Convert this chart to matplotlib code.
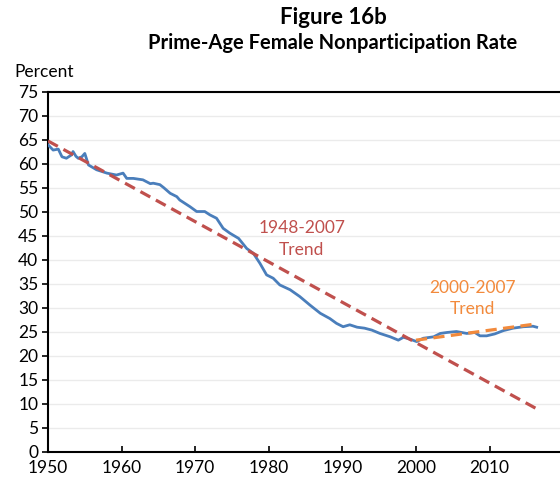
import matplotlib.pyplot as plt

plt.rcParams['font.family'] = ['Lato', 'DejaVu Sans']

# traced series (percent)
years = [1950.0, 1950.7, 1951.4, 1951.9, 1952.5, 1953.2, 1953.4, 1953.8, 1954.1, 1954.6,
         1955.0, 1955.5, 1956.6, 1958.0, 1959.3, 1960.2, 1960.7, 1961.6, 1962.9, 1963.9,
         1964.3, 1965.2, 1965.7, 1966.6, 1967.5, 1967.9, 1968.8, 1969.3, 1970.2, 1971.3,
         1972.0, 1972.9, 1973.8, 1974.7, 1975.9, 1977.0, 1977.9, 1978.8, 1979.7, 1980.6,
         1981.5, 1982.9, 1984.2, 1985.6, 1987.0, 1988.3, 1989.2, 1990.1, 1991.0, 1992.0,
         1993.0, 1994.0, 1995.1, 1996.5, 1997.6, 1998.3, 1999.2, 2000.1, 2001.0, 2002.4,
         2003.3, 2004.2, 2005.5, 2006.9, 2008.0, 2008.7, 2009.6, 2010.7, 2011.9, 2013.2,
         2014.6, 2015.9, 2016.4]
rate = [64.0, 62.9, 63.1, 61.5, 61.2, 61.9, 62.6, 61.6, 61.2, 61.5,
        62.2, 59.8, 58.8, 58.1, 57.7, 58.1, 57.0, 57.0, 56.7, 55.9,
        56.0, 55.7, 55.1, 53.9, 53.2, 52.5, 51.6, 51.1, 50.1, 50.1,
        49.4, 48.7, 46.6, 45.6, 44.5, 42.4, 41.4, 39.3, 36.9, 36.2,
        34.8, 33.8, 32.4, 30.6, 28.9, 27.8, 26.8, 26.1, 26.5, 26.0,
        25.8, 25.4, 24.7, 24.0, 23.3, 23.9, 23.5, 23.0, 23.7, 24.0,
        24.7, 24.9, 25.1, 24.7, 24.9, 24.2, 24.2, 24.6, 25.3, 25.8,
        26.1, 26.2, 26.0]

trend_long_x = [1950.0, 2016.4]
trend_long_y = [64.8, 9.0]
trend_short_x = [2000.0, 2016.4]
trend_short_y = [23.3, 26.7]

blue = '#4A7EBB'
red = '#C0504D'
orange = '#F28A3C'

fig = plt.figure(figsize=(5.6, 4.8), dpi=100)
ax = fig.add_axes([48 / 560, 28 / 480, 1 - 48 / 560, 360 / 480])

ax.plot(years, rate, color=blue, lw=2.0, zorder=3)
ax.plot(trend_long_x, trend_long_y, color=red, lw=2.3, dashes=(3.5, 2), zorder=4)
ax.plot(trend_short_x, trend_short_y, color=orange, lw=2.3, dashes=(3.5, 2), zorder=4)

ax.text(1984.5, 46.6, '1948-2007', color=red, fontsize=12.5, ha='center', va='center')
ax.text(1984.5, 42.1, 'Trend', color=red, fontsize=12.5, ha='center', va='center')
ax.text(2007.7, 34.1, '2000-2007', color=orange, fontsize=12.5, ha='center', va='center')
ax.text(2007.7, 29.7, 'Trend', color=orange, fontsize=12.5, ha='center', va='center')

ax.set_xlim(1950, 2019.57)
ax.set_ylim(0, 75)
ax.set_yticks(range(0, 76, 5))
ax.set_xticks(range(1950, 2011, 10))
ax.grid(axis='y', color='#EBEBEB', lw=1)
ax.set_axisbelow(True)
ax.spines['right'].set_visible(False)
for s in ('left', 'bottom', 'top'):
    ax.spines[s].set_linewidth(1.5)
ax.tick_params(axis='x', direction='in', length=4, width=1.2, labelsize=12.5, pad=6)
ax.tick_params(axis='y', direction='out', length=4, width=1.2, labelsize=12.5, pad=3)

fig.text(333 / 560, 1 - 17 / 480, 'Figure 16b', fontsize=16, fontweight='bold', ha='center', va='center')
fig.text(333 / 560, 1 - 43 / 480, 'Prime-Age Female Nonparticipation Rate', fontsize=14.5,
         fontweight='bold', ha='center', va='center')
fig.text(14 / 560, 1 - 72 / 480, 'Percent', fontsize=12.5, ha='left', va='center')

fig.savefig('out.png', dpi=100)
